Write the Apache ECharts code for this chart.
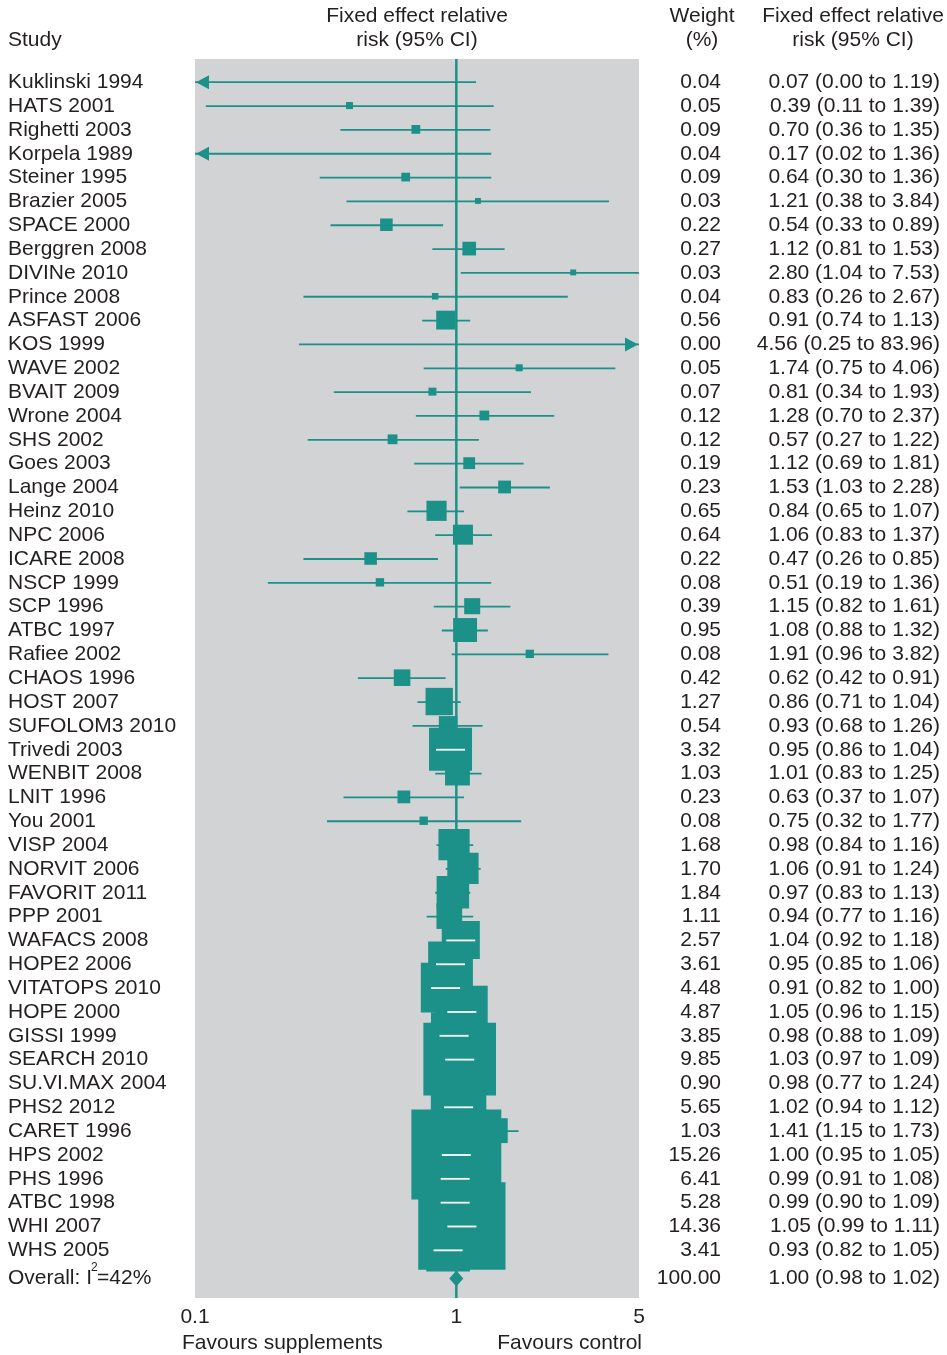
<!DOCTYPE html>
<html>
<head>
<meta charset="utf-8">
<title>Forest plot</title>
<script src="https://cdn.jsdelivr.net/npm/echarts@6/dist/echarts.min.js"></script>
<style>
html, body { margin: 0; padding: 0; background: #fff; }
#main { width: 947px; height: 1355px; }
</style>
</head>
<body>
<div id="main"></div>
<script>
// study rows, top to bottom
const studies = ['Kuklinski 1994', 'HATS 2001', 'Righetti 2003', 'Korpela 1989', 'Steiner 1995',
    'Brazier 2005', 'SPACE 2000', 'Berggren 2008', 'DIVINe 2010', 'Prince 2008', 'ASFAST 2006',
    'KOS 1999', 'WAVE 2002', 'BVAIT 2009', 'Wrone 2004', 'SHS 2002', 'Goes 2003', 'Lange 2004',
    'Heinz 2010', 'NPC 2006', 'ICARE 2008', 'NSCP 1999', 'SCP 1996', 'ATBC 1997', 'Rafiee 2002',
    'CHAOS 1996', 'HOST 2007', 'SUFOLOM3 2010', 'Trivedi 2003', 'WENBIT 2008', 'LNIT 1996',
    'You 2001', 'VISP 2004', 'NORVIT 2006', 'FAVORIT 2011', 'PPP 2001', 'WAFACS 2008',
    'HOPE2 2006', 'VITATOPS 2010', 'HOPE 2000', 'GISSI 1999', 'SEARCH 2010', 'SU.VI.MAX 2004',
    'PHS2 2012', 'CARET 1996', 'HPS 2002', 'PHS 1996', 'ATBC 1998', 'WHI 2007', 'WHS 2005']
const weights = [0.04, 0.05, 0.09, 0.04, 0.09, 0.03, 0.22, 0.27, 0.03, 0.04, 0.56, 0.00, 0.05, 0.07,
    0.12, 0.12, 0.19, 0.23, 0.65, 0.64, 0.22, 0.08, 0.39, 0.95, 0.08, 0.42, 1.27, 0.54, 3.32, 1.03,
    0.23, 0.08, 1.68, 1.70, 1.84, 1.11, 2.57, 3.61, 4.48, 4.87, 3.85, 9.85, 0.90, 5.65, 1.03, 15.26,
    6.41, 5.28, 14.36, 3.41]
const rr = [0.07, 0.39, 0.70, 0.17, 0.64, 1.21, 0.54, 1.12, 2.80, 0.83, 0.91, 4.56, 1.74, 0.81,
    1.28, 0.57, 1.12, 1.53, 0.84, 1.06, 0.47, 0.51, 1.15, 1.08, 1.91, 0.62, 0.86, 0.93, 0.95, 1.01,
    0.63, 0.75, 0.98, 1.06, 0.97, 0.94, 1.04, 0.95, 0.91, 1.05, 0.98, 1.03, 0.98, 1.02, 1.41, 1.00,
    0.99, 0.99, 1.05, 0.93]
const lower = [0.00, 0.11, 0.36, 0.02, 0.30, 0.38, 0.33, 0.81, 1.04, 0.26, 0.74, 0.25, 0.75, 0.34,
    0.70, 0.27, 0.69, 1.03, 0.65, 0.83, 0.26, 0.19, 0.82, 0.88, 0.96, 0.42, 0.71, 0.68, 0.86, 0.83,
    0.37, 0.32, 0.84, 0.91, 0.83, 0.77, 0.92, 0.85, 0.82, 0.96, 0.88, 0.97, 0.77, 0.94, 1.15, 0.95,
    0.91, 0.90, 0.99, 0.82]
const upper = [1.19, 1.39, 1.35, 1.36, 1.36, 3.84, 0.89, 1.53, 7.53, 2.67, 1.13, 83.96, 4.06, 1.93,
    2.37, 1.22, 1.81, 2.28, 1.07, 1.37, 0.85, 1.36, 1.61, 1.32, 3.82, 0.91, 1.04, 1.26, 1.04, 1.25,
    1.07, 1.77, 1.16, 1.24, 1.13, 1.16, 1.18, 1.06, 1.00, 1.15, 1.09, 1.09, 1.24, 1.12, 1.73, 1.05,
    1.08, 1.09, 1.11, 1.05]

// pooled result
const overallWeight = [100.00]
const overallRR = [1.00]
const overallLower = [0.98]
const overallUpper = [1.02]
const heterogeneity = 42

// x axis (log)
const xTicks = [0.1, 1, 5]
const refValue = [1]

const FONT = '"Liberation Sans", Arial, sans-serif'
const FS = 21
const TEXT = '#231f20'
const TEAL = '#1b9189'
const GRAY = '#d1d3d4'
const xMin = xTicks[0]
const xMax = xTicks[xTicks.length - 1]
const overallPos = studies.length + 0.2

const chart = echarts.init(document.getElementById('main'), null, {renderer: 'canvas'})

const rows = studies.map(function (s, i) {
    return [i, rr[i], lower[i], upper[i], weights[i]]
})
const pooled = [[overallPos, overallRR[0], overallLower[0], overallUpper[0], overallWeight[0]]]

function clampX(v) {
    return Math.min(Math.max(v, xMin), xMax)
}

function offScale(lo, hi) {
    // far beyond the axis -> arrow instead of box
    return lo < xMin / 2 || hi > xMax * 2
}

function boxSide(w) {
    return 2 + 22.5 * Math.sqrt(w)
}

function textEl(x, y, str, align, size) {
    return {
        type: 'text', x: x, y: y,
        style: {
            text: str, fill: TEXT, fontSize: size || FS, fontFamily: FONT,
            align: align, verticalAlign: 'middle'
        }
    }
}

function renderBox(params, api) {
    const est = api.value(1), lo = api.value(2), hi = api.value(3), w = api.value(4)
    if (offScale(lo, hi) || est < xMin || est > xMax) return null
    const p = api.coord([est, api.value(0)])
    const s = boxSide(w)
    return {
        type: 'rect',
        shape: {x: p[0] - s / 2, y: p[1] - s / 2, width: s, height: s},
        style: {fill: TEAL}
    }
}

function renderCI(params, api) {
    const i = api.value(0)
    const est = api.value(1), lo = api.value(2), hi = api.value(3), w = api.value(4)
    const cs = params.coordSys
    const y = api.coord([1, i])[1] + 0.5
    let xl = api.coord([clampX(lo), i])[0]
    let xh = api.coord([clampX(hi), i])[0]
    const xe = api.coord([clampX(est), i])[0]
    const arrow = offScale(lo, hi)
    const s = boxSide(w)
    const inside = !arrow && xl >= xe - s / 2 && xh <= xe + s / 2
    if (inside) {
        // white bar inside big boxes is drawn at a fixed minimum length
        const half = Math.min(Math.max((xh - xl) / 2, 14.5), s / 2 - 3)
        xl = xe - half
        xh = xe + half
    }
    const kids = [{
        type: 'line',
        shape: {x1: xl, y1: y, x2: xh, y2: y},
        style: {stroke: inside ? '#ffffff' : TEAL, lineWidth: 1.8}
    }]
    if (lo < xMin / 2) {
        kids.push({
            type: 'polygon',
            shape: {points: [[cs.x + 1, y], [cs.x + 14, y - 7], [cs.x + 14, y + 7]]},
            style: {fill: TEAL}
        })
    }
    if (hi > xMax * 2) {
        const r = cs.x + cs.width - 1
        kids.push({
            type: 'polygon',
            shape: {points: [[r, y], [r - 13, y - 7], [r - 13, y + 7]]},
            style: {fill: TEAL}
        })
    }
    kids.push(textEl(8, y, studies[i], 'left'))
    kids.push(textEl(721, y, w.toFixed(2), 'right'))
    kids.push(textEl(940, y, est.toFixed(2) + ' (' + lo.toFixed(2) + ' to ' + hi.toFixed(2) + ')', 'right'))
    return {type: 'group', children: kids}
}

function renderPooled(params, api) {
    const i = api.value(0)
    const est = api.value(1), lo = api.value(2), hi = api.value(3), w = api.value(4)
    const p = api.coord([est, i])
    const half = Math.max(7, (api.coord([hi, i])[0] - api.coord([lo, i])[0]) / 2)
    const ctx = document.createElement('canvas').getContext('2d')
    ctx.font = FS + 'px ' + FONT
    const head = 'Overall: I'
    const hw = ctx.measureText(head).width
    return {
        type: 'group',
        children: [
            {
                type: 'polygon',
                shape: {points: [[p[0] - half, p[1]], [p[0], p[1] - 8], [p[0] + half, p[1]], [p[0], p[1] + 8]]},
                style: {fill: TEAL}
            },
            textEl(8, p[1], head, 'left'),
            textEl(8 + hw - 1, p[1] - 11, '2', 'left', 12),
            textEl(8 + hw + 5, p[1], '=' + heterogeneity + '%', 'left'),
            textEl(721, p[1], w.toFixed(2), 'right'),
            textEl(940, p[1], est.toFixed(2) + ' (' + lo.toFixed(2) + ' to ' + hi.toFixed(2) + ')', 'right')
        ]
    }
}

function headText(x, y, str, align) {
    return {
        type: 'text', x: x, y: y, silent: true,
        style: {text: str, fill: TEXT, fontSize: FS, fontFamily: FONT, align: align, verticalAlign: 'middle'}
    }
}

const option = {
    animation: false,
    backgroundColor: '#ffffff',
    grid: {
        left: 195, right: 308, top: 59, bottom: 57,
        show: true, backgroundColor: GRAY, borderWidth: 0
    },
    xAxis: {
        type: 'log', logBase: 10, min: xMin, max: xMax,
        axisLine: {show: false}, axisTick: {show: false}, splitLine: {show: false},
        axisLabel: {
            customValues: xTicks,
            formatter: function (v) { return String(+(+v).toPrecision(6)) },
            color: TEXT, fontSize: FS, fontFamily: FONT, margin: 9,
            showMinLabel: true, showMaxLabel: true
        }
    },
    yAxis: {
        type: 'value', inverse: true, min: -0.953, max: 51.02, show: false
    },
    graphic: [
        headText(8, 40, 'Study', 'left'),
        headText(417, 16, 'Fixed effect relative', 'center'),
        headText(417, 40, 'risk (95% CI)', 'center'),
        headText(702, 16, 'Weight', 'center'),
        headText(702, 40, '(%)', 'center'),
        headText(853, 16, 'Fixed effect relative', 'center'),
        headText(853, 40, 'risk (95% CI)', 'center'),
        headText(182, 1343, 'Favours supplements', 'left'),
        headText(642, 1343, 'Favours control', 'right')
    ],
    series: [
        {
            type: 'custom', z: 1, clip: false,
            data: refValue.map(function (v) { return [v] }),
            encode: {x: 0},
            renderItem: function (params, api) {
                const cs = params.coordSys
                const x = api.coord([api.value(0), 0])[0]
                return {
                    type: 'line',
                    shape: {x1: x, y1: cs.y, x2: x, y2: cs.y + cs.height},
                    style: {stroke: TEAL, lineWidth: 2.5}
                }
            }
        },
        {
            type: 'custom', z: 2, clip: false,
            data: rows, encode: {x: 1, y: 0},
            renderItem: renderBox
        },
        {
            type: 'custom', z: 3, clip: false,
            data: rows, encode: {x: 1, y: 0},
            renderItem: renderCI
        },
        {
            type: 'custom', z: 3, clip: false,
            data: pooled, encode: {x: 1, y: 0},
            renderItem: renderPooled
        }
    ]
}

chart.setOption(option)
</script>
</body>
</html>
